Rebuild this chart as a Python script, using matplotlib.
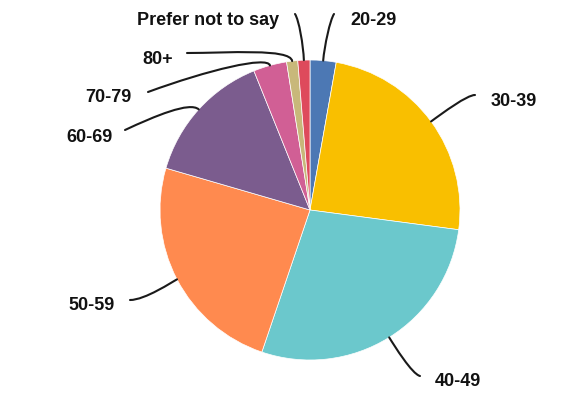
import numpy as np
import matplotlib
matplotlib.use("Agg")
import matplotlib.pyplot as plt
from matplotlib.path import Path
from matplotlib.patches import PathPatch

labels = ["20-29", "30-39", "40-49", "50-59", "60-69", "70-79", "80+", "Prefer not to say"]
values = [2.8, 24.3, 28.1, 24.3, 14.4, 3.6, 1.2, 1.3]
colors = ["#4C78B4", "#F9BF00", "#6BC8CC", "#FF8A4F", "#7B5C8E", "#D15F95", "#C8B87A", "#DE4A5C"]

W, H = 582, 411
cx, cy, r = 310, H - 210, 150

# label layout in pixel coords (y from top): text x, text y, align, line end, radial stub, 2nd control offset
layout = {
    "20-29": (350, 21, "left", (334, 14), 15, (-4, 6)),
    "30-39": (491, 101, "left", (475, 95), 15, (-8, 0)),
    "40-49": (435, 381, "left", (420, 376), 10, (-8, -2)),
    "50-59": (115, 305, "right", (130, 300), 5, (15, 0)),
    "60-69": (113, 137, "right", (125, 130), 12, (30, -14)),
    "70-79": (132, 97, "right", (148, 92), 10, (60, -22)),
    "80+": (173, 60, "right", (187, 53), 13, (40, 0)),
    "Prefer not to say": (279, 21, "right", (295, 14), 15, (4, 6)),
}

fig = plt.figure(figsize=(W / 100, H / 100), dpi=100)
ax = fig.add_axes([0, 0, 1, 1])

wedges, _ = ax.pie(values, colors=colors, startangle=90, counterclock=False,
                   center=(cx, cy), radius=r,
                   wedgeprops=dict(edgecolor="white", linewidth=0.5))
ax.set_xlim(0, W)
ax.set_ylim(0, H)
ax.set_aspect("equal")
ax.axis("off")

for w, lab in zip(wedges, labels):
    tx, ty, ha, end, stub, off = layout[lab]
    a = np.deg2rad((w.theta1 + w.theta2) / 2)
    p0 = (cx + r * np.cos(a), cy + r * np.sin(a))
    p1 = (cx + (r + stub) * np.cos(a), cy + (r + stub) * np.sin(a))
    p3 = (end[0], H - end[1])
    p2 = (p3[0] + off[0], p3[1] - off[1])
    path = Path([p0, p1, p2, p3], [Path.MOVETO, Path.CURVE4, Path.CURVE4, Path.CURVE4])
    ax.add_patch(PathPatch(path, fill=False, lw=1.5, edgecolor="#1a1a1a", capstyle="round"))
    ax.text(tx, H - ty, lab, ha=ha, va="center", fontsize=13, fontweight="bold",
            family="Liberation Sans", color="#111111")

fig.savefig("out.png", dpi=100)
